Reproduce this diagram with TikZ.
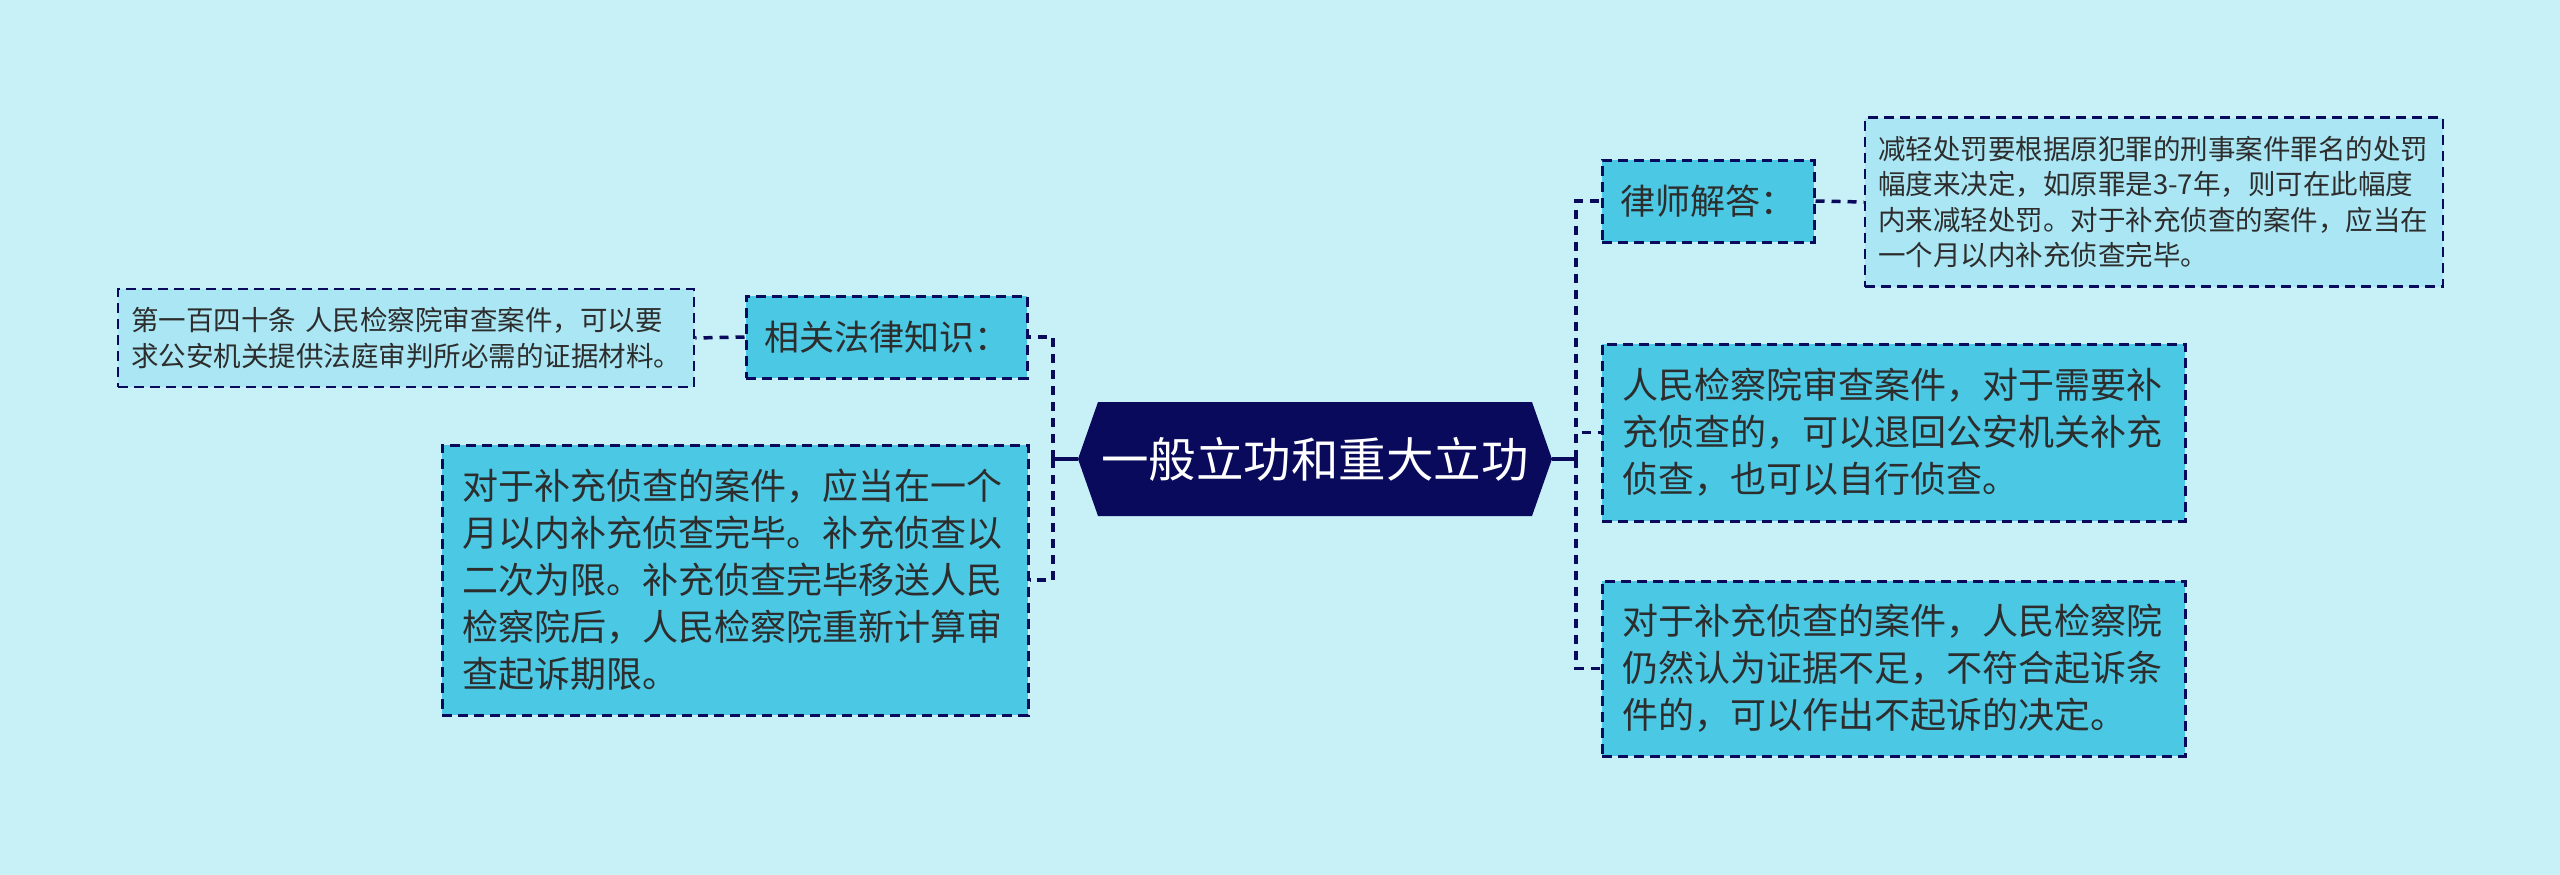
\documentclass[tikz,border=0pt]{standalone}
\usepackage{fontspec}
\newfontfamily\cjk{Noto Sans CJK SC}
\definecolor{bgc}{RGB}{200,240,247}
\definecolor{navyc}{RGB}{10,10,92}
\definecolor{boxc}{RGB}{74,200,228}
\definecolor{lightc}{RGB}{170,230,243}
\definecolor{txtc}{RGB}{45,45,45}
\tikzset{
  bigbox/.style={draw=navyc, line width=3pt, dash pattern=on 10pt off 6pt, fill=boxc,
    inner xsep=20pt, inner ysep=0pt, align=left, text=txtc,
    font=\cjk\fontsize{36}{47}\selectfont},
  labelbox/.style={draw=navyc, line width=3pt, dash pattern=on 10pt off 6pt, fill=boxc,
    inner sep=0pt, align=center, text=txtc,
    font=\cjk\fontsize{35}{42}\selectfont},
  detailbox/.style={draw=navyc, line width=2.5pt, dash pattern=on 10pt off 6pt, fill=lightc,
    inner xsep=13pt, inner ysep=0pt, align=left, text=txtc,
    font=\cjk\fontsize{27.5}{35.5}\selectfont},
  centernode/.style={inner sep=0pt, text=white, font=\cjk\fontsize{47.5}{56}\selectfont},
  solidlink/.style={draw=navyc, line width=3.5pt},
  dlink/.style={draw=navyc, line width=3.5pt, dash pattern=on 9pt off 7pt}
}
\begin{document}
\begin{tikzpicture}[x=1pt,y=-1pt]
\fill[bgc] (0,0) rectangle (2560,875);
\useasboundingbox (0,0) rectangle (2560,875);

% central topic
\fill[navyc] (1098,402) -- (1078,459) -- (1098,516) -- (1532,516) -- (1552,459) -- (1532,402) -- cycle;
\node[centernode, minimum width=474pt, minimum height=114pt] (c) at (1315,459) {一般立功和重大立功};

% right side
\node[labelbox, minimum width=212pt, minimum height=82pt] (lawyer) at (1708,201) {律师解答：};
\node[detailbox, minimum width=578pt, minimum height=169pt, text width=552pt] (det1) at (2154,202)
  {减轻处罚要根据原犯罪的刑事案件罪名的处罚\\幅度来决定，如原罪是3-7年，则可在此幅度\\内来减轻处罚。对于补充侦查的案件，应当在\\一个月以内补充侦查完毕。};
\node[bigbox, minimum width=583pt, minimum height=177pt, text width=543pt] (box2) at (1893.5,432.5)
  {人民检察院审查案件，对于需要补\\充侦查的，可以退回公安机关补充\\侦查，也可以自行侦查。};
\node[bigbox, minimum width=583pt, minimum height=175pt, text width=543pt] (box3) at (1893.5,668.5)
  {对于补充侦查的案件，人民检察院\\仍然认为证据不足，不符合起诉条\\件的，可以作出不起诉的决定。};

% left side
\node[labelbox, minimum width=281pt, minimum height=82pt] (related) at (886.5,337) {相关法律知识：};
\node[detailbox, minimum width=576pt, minimum height=98pt, text width=550pt] (detleft) at (406,338)
  {第一百四十条 人民检察院审查案件，可以要\\求公安机关提供法庭审判所必需的证据材料。};
\node[bigbox, minimum width=586pt, minimum height=270pt, text width=546pt] (bigleft) at (735,580)
  {对于补充侦查的案件，应当在一个\\月以内补充侦查完毕。补充侦查以\\二次为限。补充侦查完毕移送人民\\检察院后，人民检察院重新计算审\\查起诉期限。};

% connectors
\coordinate (rt) at (1576,459);
\coordinate (lt) at (1053,459);
\draw[solidlink] (c.east) -- (rt);
\draw[solidlink] (c.west) -- (lt);
\draw[dlink] (rt) |- (lawyer.west);
\draw[dlink] (rt) |- (box2.west);
\draw[dlink] (rt) |- (box3.west);
\draw[dlink] (lt) |- (related.east);
\draw[dlink] (lt) |- (bigleft.east);
\draw[dlink] (lawyer.east) -- (det1.west);
\draw[dlink] (related.west) -- (detleft.east);
\end{tikzpicture}
\end{document}
